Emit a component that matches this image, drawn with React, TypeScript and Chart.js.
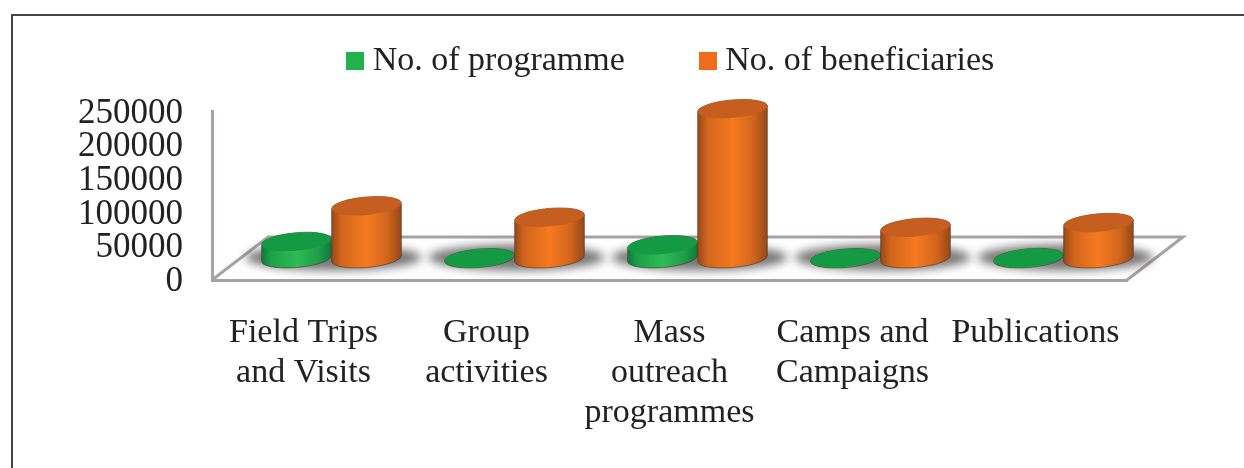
import React, { useEffect, useRef } from "react";
import { Chart, registerables } from "chart.js";

Chart.register(...registerables);

const categories = [
  ["Field Trips", "and Visits"],
  ["Group", "activities"],
  ["Mass", "outreach", "programmes"],
  ["Camps and", "Campaigns"],
  ["Publications"],
];
const programmes = [25000, 800, 20000, 800, 1000];
const beneficiaries = [78000, 61000, 222000, 46000, 53000];
const yTicks = [0, 50000, 100000, 150000, 200000, 250000];

const FONT = "'Liberation Serif', 'Times New Roman', serif";
const DEPTH_X = 56;
const DEPTH_Y = 43;
const ELLIPSE_RY = 9;
const TILT = (-5 * Math.PI) / 180;

const palettes = [
  { legend: "#22b14c", edge: "#0f7a3c", mid: "#2dbb55", soft: "#1f9f4a", top: "#149a43" },
  { legend: "#ef6c1d", edge: "#94481a", mid: "#f67a20", soft: "#d2651c", top: "#c55e1e" },
];

function swatch(color: string) {
  const c = document.createElement("canvas");
  c.width = 18;
  c.height = 18;
  const x = c.getContext("2d")!;
  x.fillStyle = color;
  x.fillRect(0, 0, 18, 18);
  return c;
}

function drawCylinder(ctx: CanvasRenderingContext2D, cx: number, baseY: number, topY: number, rx: number, p: (typeof palettes)[number]) {
  const grad = ctx.createLinearGradient(cx - rx, 0, cx + rx, 0);
  grad.addColorStop(0, p.edge);
  grad.addColorStop(0.14, p.soft);
  grad.addColorStop(0.5, p.mid);
  grad.addColorStop(0.8, p.soft);
  grad.addColorStop(1, p.edge);
  ctx.beginPath();
  ctx.ellipse(cx, baseY, rx, ELLIPSE_RY, TILT, 0, Math.PI, false);
  ctx.ellipse(cx, topY, rx, ELLIPSE_RY, TILT, Math.PI, Math.PI * 2, false);
  ctx.closePath();
  ctx.fillStyle = grad;
  ctx.fill();
  ctx.strokeStyle = "rgba(70,50,30,0.55)";
  ctx.lineWidth = 1;
  ctx.stroke();
  ctx.beginPath();
  ctx.ellipse(cx, topY, rx, ELLIPSE_RY, TILT, 0, Math.PI * 2);
  ctx.fillStyle = p.top;
  ctx.fill();
}

const scene3d = {
  id: "scene3d",
  afterLayout(chart: any) {
    chart.legend.left += 111;
    chart.legend.right += 111;
    chart.legend.top = -38.5;
  },
  beforeDatasetsDraw(chart: any) {
    const { ctx, chartArea: a } = chart;
    ctx.save();
    // page frame
    ctx.strokeStyle = "#444";
    ctx.lineWidth = 2;
    ctx.beginPath();
    ctx.moveTo(12, 468);
    ctx.lineTo(12, 15);
    ctx.lineTo(1244, 15);
    ctx.stroke();
    // floor
    ctx.strokeStyle = "#a8a3a3";
    ctx.lineWidth = 3;
    ctx.beginPath();
    ctx.moveTo(a.left, a.bottom);
    ctx.lineTo(a.left + DEPTH_X, a.bottom - DEPTH_Y);
    ctx.lineTo(a.right + DEPTH_X, a.bottom - DEPTH_Y);
    ctx.lineTo(a.right, a.bottom);
    ctx.stroke();
    // soft ground shadows
    const m0 = chart.getDatasetMeta(0).data;
    const m1 = chart.getDatasetMeta(1).data;
    m0.forEach((el: any, i: number) => {
      const o = m1[i];
      const x0 = el.x - el.width / 2 + DEPTH_X / 2;
      const x1 = o.x + o.width / 2 + DEPTH_X / 2;
      ctx.save();
      ctx.filter = "blur(5px)";
      ctx.fillStyle = "rgba(95,95,95,0.85)";
      ctx.beginPath();
      ctx.ellipse((x0 + x1) / 2 + 2, a.bottom - DEPTH_Y / 2 - 1, (x1 - x0) / 2 + 18, 13, 0, 0, Math.PI * 2);
      ctx.fill();
      ctx.restore();
    });
    // cylinders: green first, orange in front of it
    [0, 1].forEach((ds) => {
      chart.getDatasetMeta(ds).data.forEach((el: any) => {
        drawCylinder(ctx, el.x + DEPTH_X / 2, el.base - DEPTH_Y / 2, el.y - DEPTH_Y / 2, el.width / 2, palettes[ds]);
      });
    });
    ctx.restore();
  },
  beforeDatasetDraw() {
    return false;
  },
};

export default function App() {
  const ref = useRef<HTMLCanvasElement>(null);
  useEffect(() => {
    document.body.style.margin = "0";
    document.body.style.background = "#fff";
    const swatches = palettes.map((p) => swatch(p.legend));
    const chart = new Chart(ref.current!, {
      type: "bar",
      data: {
        labels: categories as any,
        datasets: [
          { label: "No. of programme", data: programmes, backgroundColor: palettes[0].legend },
          { label: "No. of beneficiaries", data: beneficiaries, backgroundColor: palettes[1].legend },
        ],
      },
      plugins: [scene3d],
      options: {
        responsive: false,
        animation: false,
        devicePixelRatio: 1,
        layout: { padding: { top: -15, right: 117, left: 0, bottom: 0 } },
        datasets: { bar: { categoryPercentage: 0.765, barPercentage: 1 } },
        plugins: {
          tooltip: { enabled: false },
          legend: {
            position: "top",
            labels: {
              color: "#222",
              font: { family: FONT, size: 34 },
              usePointStyle: true,
              pointStyleWidth: 1,
              boxWidth: 1,
              padding: 82.5,
              generateLabels: (c: any) =>
                c.data.datasets.map((d: any, i: number) => ({
                  text: d.label,
                  fillStyle: d.backgroundColor,
                  strokeStyle: d.backgroundColor,
                  lineWidth: 0,
                  pointStyle: swatches[i],
                  datasetIndex: i,
                  fontColor: "#222",
                })),
            },
          },
        },
        scales: {
          x: {
            afterFit: (s: any) => {
              s.height = 188;
            },
            grid: { display: false, drawTicks: false },
            border: { color: "#a8a3a3", width: 3 },
            ticks: {
              color: "#222",
              autoSkip: false,
              maxRotation: 0,
              padding: 33,
              font: { family: FONT, size: 34, lineHeight: 1.18 },
            },
          },
          y: {
            min: 0,
            max: 250000,
            afterFit: (s: any) => {
              s.width = 212;
            },
            afterBuildTicks: (s: any) => {
              s.ticks = yTicks.map((value) => ({ value }));
            },
            grid: { display: false, drawTicks: false },
            border: { color: "#a8a3a3", width: 3 },
            ticks: {
              color: "#222",
              autoSkip: false,
              padding: 29,
              labelOffset: 2,
              font: { family: FONT, size: 35 },
              callback: (v: any) => String(v),
            },
          },
        },
      } as any,
    });
    return () => chart.destroy();
  }, []);
  return <canvas ref={ref} width={1244} height={468} style={{ display: "block", position: "absolute", left: 0, top: 0 }} />;
}
